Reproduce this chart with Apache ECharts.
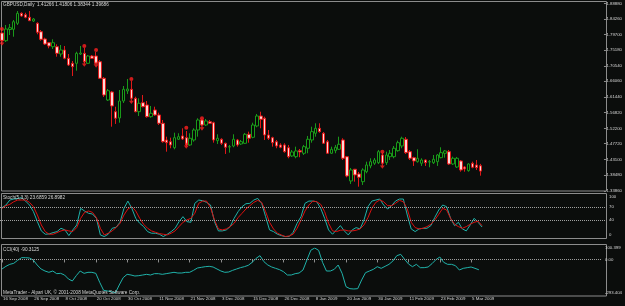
<!DOCTYPE html>
<html><head><meta charset="utf-8">
<script src="https://cdn.jsdelivr.net/npm/echarts@6/dist/echarts.min.js"></script>
<style>html,body{margin:0;padding:0;background:#0b0d0c;}#c{width:625px;height:306px;}</style>
</head><body><div id="c"></div>
<script>
const dates = ['16 Sep 2008','17 Sep 2008','18 Sep 2008','19 Sep 2008','22 Sep 2008','23 Sep 2008','24 Sep 2008','25 Sep 2008','26 Sep 2008','29 Sep 2008','30 Sep 2008',
'1 Oct 2008','2 Oct 2008','3 Oct 2008','6 Oct 2008','7 Oct 2008','8 Oct 2008','9 Oct 2008','10 Oct 2008','13 Oct 2008','14 Oct 2008','15 Oct 2008','16 Oct 2008','17 Oct 2008','20 Oct 2008','21 Oct 2008','22 Oct 2008','23 Oct 2008','24 Oct 2008','27 Oct 2008','28 Oct 2008','29 Oct 2008','30 Oct 2008','31 Oct 2008',
'3 Nov 2008','4 Nov 2008','5 Nov 2008','6 Nov 2008','7 Nov 2008','10 Nov 2008','11 Nov 2008','12 Nov 2008','13 Nov 2008','14 Nov 2008','17 Nov 2008','18 Nov 2008','19 Nov 2008','20 Nov 2008','21 Nov 2008','24 Nov 2008','25 Nov 2008','26 Nov 2008','27 Nov 2008','28 Nov 2008',
'1 Dec 2008','2 Dec 2008','3 Dec 2008','4 Dec 2008','5 Dec 2008','8 Dec 2008','9 Dec 2008','10 Dec 2008','11 Dec 2008','12 Dec 2008','15 Dec 2008','16 Dec 2008','17 Dec 2008','18 Dec 2008','19 Dec 2008','22 Dec 2008','23 Dec 2008','24 Dec 2008','26 Dec 2008','29 Dec 2008','30 Dec 2008','31 Dec 2008',
'2 Jan 2009','5 Jan 2009','6 Jan 2009','7 Jan 2009','8 Jan 2009','9 Jan 2009','12 Jan 2009','13 Jan 2009','14 Jan 2009','15 Jan 2009','16 Jan 2009','19 Jan 2009','20 Jan 2009','21 Jan 2009','22 Jan 2009','23 Jan 2009','26 Jan 2009','27 Jan 2009','28 Jan 2009','29 Jan 2009','30 Jan 2009',
'2 Feb 2009','3 Feb 2009','4 Feb 2009','5 Feb 2009','6 Feb 2009','9 Feb 2009','10 Feb 2009','11 Feb 2009','12 Feb 2009','13 Feb 2009','16 Feb 2009','17 Feb 2009','18 Feb 2009','19 Feb 2009','20 Feb 2009','23 Feb 2009','24 Feb 2009','25 Feb 2009','26 Feb 2009','27 Feb 2009',
'2 Mar 2009','3 Mar 2009','4 Mar 2009','5 Mar 2009','6 Mar 2009','9 Mar 2009'];

const open = [1.8021,1.7795,1.8124,1.8130,1.8306,1.8599,1.8558,1.8482,1.8373,1.8306,
1.8059,1.7845,1.7736,1.7619,1.7619,1.7405,1.7522,1.7279,1.7132,1.7132,
1.7405,1.7425,1.7132,1.7346,1.7346,1.7179,1.6692,1.6055,1.6290,1.5712,
1.5528,1.6026,1.6320,1.6369,1.6105,1.5712,1.5976,1.5909,1.5566,1.5762,
1.5616,1.5372,1.4882,1.4832,1.4656,1.4903,1.5000,1.4950,1.4736,1.4882,
1.5175,1.5469,1.5322,1.5419,1.5390,1.4862,1.4903,1.4785,1.4677,1.4706,
1.4882,1.4765,1.4785,1.5049,1.4961,1.5293,1.5586,1.5519,1.5029,1.4950,
1.4832,1.4736,1.4736,1.4656,1.4413,1.4392,1.4568,1.4492,1.4639,1.4882,
1.5079,1.5225,1.5079,1.4832,1.4492,1.4568,1.4609,1.4882,1.4392,1.3680,
1.4023,1.3885,1.3659,1.3952,1.4120,1.4199,1.4216,1.4442,1.4216,1.4392,
1.4392,1.4568,1.4706,1.4903,1.4539,1.4363,1.4246,1.4199,1.4295,1.4237,
1.4216,1.4246,1.4363,1.4492,1.4539,1.4178,1.4090,1.4266,1.4090,1.3982,
1.4199,1.4149,1.41266];

const high = [1.8080,1.8256,1.8285,1.8402,1.8666,1.8628,1.8616,1.8666,1.8461,1.8335,
1.8109,1.7883,1.7757,1.7836,1.7689,1.7669,1.7640,1.7405,1.7200,1.7472,
1.7640,1.7581,1.7376,1.7376,1.7464,1.7229,1.6730,1.6378,1.6320,1.5859,
1.6349,1.6466,1.6672,1.6613,1.6152,1.6105,1.6202,1.6026,1.5880,1.5859,
1.5683,1.5469,1.4979,1.4950,1.5096,1.5079,1.5225,1.5146,1.5079,1.5225,
1.5519,1.5498,1.5498,1.5469,1.5419,1.5049,1.4932,1.4803,1.4736,1.5049,
1.4912,1.4882,1.5088,1.5126,1.5390,1.5645,1.5712,1.5566,1.5175,1.4979,
1.4882,1.4785,1.4785,1.4736,1.4589,1.4686,1.4618,1.4736,1.5000,1.5272,
1.5372,1.5372,1.5117,1.4882,1.4686,1.4736,1.4979,1.4932,1.4413,1.4061,
1.4032,1.3944,1.4052,1.4246,1.4345,1.4354,1.4589,1.4501,1.4539,1.4589,
1.4706,1.4862,1.4979,1.4970,1.4589,1.4392,1.4609,1.4345,1.4310,1.4295,
1.4442,1.4472,1.4668,1.4589,1.4589,1.4392,1.4384,1.4295,1.4120,1.4199,
1.4246,1.4295,1.41806];

const low = [1.7757,1.7757,1.7962,1.7912,1.8256,1.8499,1.8452,1.8373,1.8344,1.7983,
1.7795,1.7669,1.7572,1.7552,1.7326,1.7326,1.7249,1.7053,1.6760,1.6915,
1.7376,1.7141,1.7112,1.7258,1.7112,1.6672,1.6144,1.6026,1.5272,1.5352,
1.5390,1.5968,1.6232,1.6085,1.5695,1.5586,1.5841,1.5536,1.5536,1.5586,
1.5322,1.4803,1.4539,1.4639,1.4609,1.4882,1.4882,1.4706,1.4706,1.4832,
1.4979,1.5293,1.5293,1.5352,1.4803,1.4765,1.4736,1.4472,1.4510,1.4668,
1.4686,1.4736,1.4765,1.4803,1.4932,1.5255,1.5225,1.4882,1.4882,1.4686,
1.4639,1.4639,1.4510,1.4345,1.4384,1.4345,1.4375,1.4442,1.4492,1.4803,
1.4979,1.5096,1.4765,1.4472,1.4472,1.4492,1.4589,1.4295,1.3788,1.3592,
1.3659,1.3512,1.3562,1.3905,1.4052,1.4149,1.4178,1.4178,1.4149,1.4295,
1.4345,1.4539,1.4639,1.4472,1.4295,1.4120,1.4216,1.4120,1.4120,1.4081,
1.4178,1.4120,1.4345,1.4363,1.4149,1.4149,1.4061,1.3952,1.3952,1.3952,
1.4052,1.4002,1.38344];

const close = [1.7795,1.8138,1.8176,1.8352,1.8599,1.8520,1.8482,1.8382,1.8432,1.8042,
1.7836,1.7698,1.7640,1.7736,1.7425,1.7522,1.7279,1.7082,1.7032,1.7425,
1.7434,1.7179,1.7346,1.7279,1.7132,1.6692,1.6202,1.6328,1.5880,1.5519,
1.6026,1.6369,1.6378,1.6105,1.5712,1.5959,1.5859,1.5566,1.5665,1.5616,
1.5372,1.4832,1.4803,1.4736,1.4950,1.4979,1.4912,1.4736,1.4932,1.5175,
1.5469,1.5322,1.5440,1.5372,1.4882,1.4932,1.4785,1.4668,1.4686,1.4903,
1.4736,1.4832,1.5049,1.4932,1.5322,1.5586,1.5489,1.5029,1.4932,1.4803,
1.4706,1.4668,1.4539,1.4392,1.4530,1.4560,1.4530,1.4686,1.4903,1.5126,
1.5225,1.5126,1.4785,1.4492,1.4609,1.4668,1.4756,1.4345,1.3826,1.4002,
1.3856,1.3788,1.4002,1.4149,1.4246,1.4295,1.4539,1.4199,1.4442,1.4492,
1.4639,1.4803,1.4932,1.4510,1.4345,1.4266,1.4345,1.4295,1.4216,1.4246,
1.4316,1.4442,1.4510,1.4560,1.4178,1.4345,1.4345,1.4002,1.4032,1.4178,
1.4081,1.4070,1.39686];

const stochMain = [68.5,74.6,86.2,88.5,90,91.5,83.8,74.6,59.2,36.1,
14.6,6.9,7.6,10.7,13,20.7,16.9,3.8,16.9,28.4,
66.9,60.8,55.4,53.8,43.8,5.3,1.5,6.9,20.7,23,
34.6,66.9,83.8,66.9,43.8,32.3,24.6,13,9.2,9.2,
6.9,1.5,6.9,13,20.7,36.1,47.7,36.1,34.6,78.5,
86.2,84.6,80.8,74.6,36.1,14.6,14.6,16.9,24.6,43.8,
59.2,70.8,77.7,78.5,86.2,90,78.5,47.7,16.9,13,
6.9,3.8,1.5,1.5,11.5,32.3,47.7,78.5,83.8,83.8,
82.3,66.9,43.8,16.9,6.9,16.9,26.9,14.6,5.3,16.9,
22.3,19.2,40,70.8,83.8,86.2,88.5,74.6,65.4,73.1,
83.8,88.5,88.5,51.5,19.2,13,19.2,20.7,20.7,26.9,
46.1,63.1,74.6,70.8,43.8,26.9,34.6,19.2,14.6,28.4,
43.8,34.6,23.6859];

const stochSignal = [66.9,73.1,76.2,82.3,86.2,86.2,86.2,80.8,70.8,51.5,
28.4,13,6.9,6.9,10.7,14.6,16.9,14.6,13,22.3,
43.8,57.7,60.8,57.7,45.4,20.7,5.3,9.2,14.6,22.3,
32.3,51.5,65.4,70.8,60.8,43.8,30,20.7,14.6,11.5,
8.4,6.9,5.3,9.2,14.6,24.6,34.6,40,43.8,55.4,
78.5,83.8,83.8,68.5,40,19.2,16.9,19.2,24.6,32.3,
45.4,55.4,65.4,73.1,80.8,85.4,80.8,59.2,34.6,19.2,
9.2,5.3,1.5,3,6.9,20.7,40,60.8,74.6,83.8,
82.3,76.2,59.2,32.3,14.6,13,16.1,16.9,14.6,14.6,
16.1,19.2,28.4,45.4,66.9,80.8,86.2,82.3,73.1,73.1,
78.5,85.4,82.3,65.4,34.6,22.3,19.2,20.7,24.6,30,
40,53.1,66.9,63.1,43.8,30,24.6,20.7,24.6,30,
34.6,37,26.8982];

const cci = [-83.4,-60.0,-42.5,-33.8,-7.5,15.8,15.8,12.9,-4.6,-48.4,
-83.4,-100.9,-112.5,-100.9,-124.2,-121.3,-135.9,-170.9,-188.4,-141.7,
-100.9,-121.3,-112.5,-112.5,-121.3,-200.1,-270.1,-275.9,-281.7,-293.404,
-223.4,-159.2,-130.1,-135.9,-144.7,-141.7,-135.9,-130.1,-135.9,-124.2,
-124.2,-130.1,-124.2,-118.4,-112.5,-118.4,-118.4,-112.5,-112.5,-95.1,
-74.6,-68.8,-63.0,-60.0,-65.9,-83.4,-100.9,-112.5,-109.6,-95.1,
-83.4,-71.7,-63.0,-51.3,-25.1,10.0,33.3,-19.2,-48.4,-65.9,
-77.6,-89.2,-106.7,-135.9,-135.9,-124.2,-118.4,-92.1,-4.6,80.9,
100.399,80.0,-25.1,-100.9,-100.9,-86.3,-48.4,-121.3,-238.0,-255.5,
-258.4,-255.5,-179.6,-115.5,-100.9,-86.3,-63.0,-77.6,-60.0,-42.5,
-13.4,33.3,45.0,1.2,-39.6,-63.0,-42.5,-71.7,-71.7,-65.9,
-36.7,-1.7,21.6,-25.1,-42.5,-42.5,-54.2,-92.1,-77.6,-71.7,
-65.9,-77.6,-90.3125];

const markerBars = [0, 21, 24, 33, 47, 51, 97];
const dotPrices = [1.8138, 1.7640, 1.7522, 1.6672, 1.5243, 1.5519, 1.4539];
const arrowPrices = [1.7733, 1.7120, 1.7091, 1.6026, 1.4711, 1.5243, 1.4125];

const priceTickLabels = ['1.88880','1.84260','1.79700','1.75180','1.70540','1.66060','1.61440','1.56820','1.52200','1.47720','1.43100','1.38480','1.33860'];
const stochTickLabels = ['100','70','40','0'];
const stochLevels = [70, 40];
const cciTickLabels = ['100.399','0.00','-293.404'];
const cciLevels = [0];

// ---------- build ----------
const FONT = 'Liberation Sans, Arial, sans-serif';
const TXT = '#d6d6d6';
const FRAME = '#8c8c8c';
const SLOTS = 154;
const cats = dates.concat(new Array(SLOTS - dates.length).fill(''));
const last = dates.length - 1;
const candleData = dates.map((d, i) => [open[i], close[i], low[i], high[i]]);
const showIdx = (i, v) => i % 8 === 0 && v !== '';
const priceTickValues = priceTickLabels.map(Number);
const stochTickValues = stochTickLabels.map(Number);
const cciTickValues = cciTickLabels.map(Number);
const lab = { fontSize: 4.3, color: TXT, fontFamily: FONT };

const chart = echarts.init(document.getElementById('c'), null, { renderer: 'canvas' });

const hdr = 'GBPUSD,Daily  ' + [open[last], high[last], low[last], close[last]].map(v => v.toFixed(5)).join(' ');
const stochHdr = 'Stoch(5,3,3) ' + stochMain[last].toFixed(4) + ' ' + stochSignal[last].toFixed(4);
const cciHdr = 'CCI(40) ' + cci[last].toFixed(4);
const tStyle = { fontSize: 4.7, color: TXT, fontWeight: 'normal', fontFamily: FONT };

const option = {
  backgroundColor: '#0b0d0c',
  animation: false,
  title: [
    { text: hdr, left: 3, top: 2, padding: 0, textStyle: tStyle },
    { text: stochHdr, left: 3, top: 195, padding: 0, textStyle: tStyle },
    { text: cciHdr, left: 3, top: 247, padding: 0, textStyle: tStyle },
    { text: 'MetaTrader - Alpari UK, \u00A9 2001-2008 MetaQuotes Software Corp.', left: 3, top: 290.5, padding: 0, textStyle: tStyle }
  ],
  graphic: [
    { type: 'rect', z: -1, silent: true, shape: { x: 1.5, y: 1.5, width: 605, height: 189.5 }, style: { fill: 'none', stroke: FRAME, lineWidth: 1 } },
    { type: 'rect', z: -1, silent: true, shape: { x: 1.5, y: 193.5, width: 605, height: 45 }, style: { fill: 'none', stroke: FRAME, lineWidth: 1 } },
    { type: 'rect', z: -1, silent: true, shape: { x: 1.5, y: 244.5, width: 605, height: 51.5 }, style: { fill: 'none', stroke: FRAME, lineWidth: 1 } }
  ],
  grid: [
    { left: 0, right: 19, top: 2, height: 189 },
    { left: 0, right: 19, top: 194, height: 43.3 },
    { left: 0, right: 19, top: 248, height: 45 }
  ],
  xAxis: [0, 1, 2].map(g => ({
    type: 'category', gridIndex: g, data: cats, boundaryGap: true,
    axisLine: { show: false },
    axisTick: { show: g === 2, alignWithLabel: true, interval: showIdx, length: 3, lineStyle: { color: FRAME } },
    axisLabel: Object.assign({ show: g === 2, interval: showIdx, align: 'left', margin: 4, padding: [0, 0, 0, 1] }, lab, { fontSize: 4.4 }),
    splitLine: { show: false }
  })),
  yAxis: [
    {
      type: 'value', gridIndex: 0, position: 'right', min: 1.3385, max: 1.8931,
      splitLine: { show: false }, axisLine: { show: false },
      axisTick: { show: true, customValues: priceTickValues, length: 2, lineStyle: { color: FRAME } },
      axisLabel: Object.assign({ customValues: priceTickValues, margin: 2.5, formatter: v => v.toFixed(5) }, lab)
    },
    {
      type: 'value', gridIndex: 1, position: 'right', min: -0.2, max: 100.2,
      splitLine: { show: false }, axisLine: { show: false },
      axisTick: { show: false },
      axisLabel: Object.assign({
        customValues: stochTickValues, margin: 3,
        formatter: v => {
          const s = stochTickLabels[stochTickValues.indexOf(v)];
          if (v === stochTickValues[0]) return '{t|' + s + '}';
          if (v === stochTickValues[stochTickValues.length - 1]) return '{b|' + s + '}';
          return s;
        },
        rich: {
          t: Object.assign({ padding: [6, 0, 0, 0] }, lab),
          b: Object.assign({ padding: [0, 0, 5, 0] }, lab)
        }
      }, lab)
    },
    {
      type: 'value', gridIndex: 2, position: 'right', min: -293.5, max: 100.5,
      splitLine: { show: false }, axisLine: { show: false },
      axisTick: { show: false },
      axisLabel: Object.assign({ customValues: cciTickValues, margin: 3, formatter: v => cciTickLabels[cciTickValues.indexOf(v)] }, lab)
    }
  ],
  series: [
    {
      type: 'candlestick', xAxisIndex: 0, yAxisIndex: 0, data: candleData, barWidth: 3,
      itemStyle: { color: '#050805', color0: '#ffd6d6', borderColor: '#1a9a1a', borderColor0: '#e01818', borderWidth: 1 },
      markLine: {
        silent: true, symbol: ['none', 'none'],
        lineStyle: { opacity: 0 },
        label: { position: 'end', distance: 1, formatter: close[last].toFixed(5), backgroundColor: '#ffffff', color: '#000000', fontSize: 4.3, fontFamily: FONT, padding: [1, 1.5] },
        data: [{ yAxis: close[last] }]
      }
    },
    {
      type: 'scatter', xAxisIndex: 0, yAxisIndex: 0, symbol: 'circle', symbolSize: 4,
      itemStyle: { color: '#ff2020' }, data: markerBars.map((b, i) => [b, dotPrices[i]])
    },
    {
      type: 'scatter', xAxisIndex: 0, yAxisIndex: 0,
      symbol: 'path://M3,0 L5,0 L5,4 L8,4 L4,9 L0,4 L3,4 Z', symbolSize: [5, 6],
      itemStyle: { color: '#ff2020' }, data: markerBars.map((b, i) => [b, arrowPrices[i]])
    },
    {
      type: 'line', xAxisIndex: 1, yAxisIndex: 1, data: stochMain, symbol: 'none',
      lineStyle: { color: '#20b2aa', width: 1 },
      markLine: { silent: true, symbol: ['none', 'none'], label: { show: false },
        lineStyle: { type: 'dotted', color: '#a0a0a0', width: 1 },
        data: stochLevels.map(v => ({ yAxis: v })) }
    },
    {
      type: 'line', xAxisIndex: 1, yAxisIndex: 1, data: stochSignal, symbol: 'none',
      lineStyle: { color: '#dd1111', width: 1 }
    },
    {
      type: 'line', xAxisIndex: 2, yAxisIndex: 2, data: cci, symbol: 'none',
      lineStyle: { color: '#20b2aa', width: 1 },
      markLine: { silent: true, symbol: ['none', 'none'], label: { show: false },
        lineStyle: { type: 'dotted', color: '#a0a0a0', width: 1 },
        data: cciLevels.map(v => ({ yAxis: v })) }
    }
  ]
};
chart.setOption(option);
</script>
</body></html>
